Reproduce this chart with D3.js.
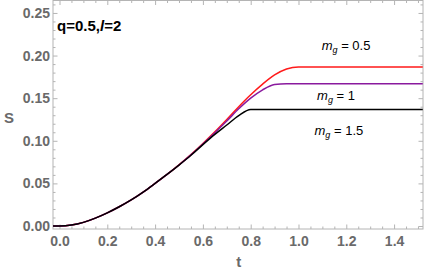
<!DOCTYPE html>
<html><head><meta charset="utf-8">
<script src="https://cdn.jsdelivr.net/npm/d3@7"></script>
<style>
html,body{margin:0;padding:0;background:#fff;}
svg{display:block;}
</style></head>
<body>
<svg id="chart" width="425" height="271"></svg>
<script>
// ---- data ----
const tValues   = [-0.027, 0, 0.05, 0.1, 0.15, 0.2, 0.25, 0.3, 0.35, 0.4, 0.45, 0.5, 0.55, 0.6, 0.65, 0.7, 0.75, 0.8, 0.85, 0.9, 0.95, 1.0, 1.05, 1.52];
const sMg05     = [0, 0, 0.0011, 0.0043, 0.0093, 0.0155, 0.0226, 0.0306, 0.0398, 0.0500, 0.0605, 0.0718, 0.0838, 0.0968, 0.1105, 0.1250, 0.1400, 0.1540, 0.1665, 0.1772, 0.1842, 0.1866, 0.1866, 0.1866];
const sMg1      = [0, 0, 0.0011, 0.0043, 0.0093, 0.0155, 0.0226, 0.0306, 0.0398, 0.0500, 0.0605, 0.0716, 0.0834, 0.0962, 0.1095, 0.1232, 0.1375, 0.1500, 0.1598, 0.1660, 0.1670, 0.1670, 0.1670, 0.1670];
const sMg15     = [0, 0, 0.0011, 0.0043, 0.0093, 0.0155, 0.0226, 0.0306, 0.0398, 0.0500, 0.0605, 0.0715, 0.0830, 0.0955, 0.1075, 0.1185, 0.1295, 0.1366, 0.1366, 0.1366, 0.1366, 0.1366, 0.1366, 0.1366];
const seriesColors = ["#ff1a1a", "#8a1a9e", "#000000"];
const seriesNames  = ["0.5", "1", "1.5"];
const labelT = [1.199, 1.157, 1.169];
const labelS = [0.206, 0.1475, 0.1066];
const xTicks = [0, 0.2, 0.4, 0.6, 0.8, 1.0, 1.2, 1.4];
const yTicks = [0, 0.05, 0.10, 0.15, 0.20, 0.25];

// ---- layout ----
const svg = d3.select("#chart");
const x = d3.scaleLinear().domain([-0.0272, 1.521]).range([53, 423]);
const y = d3.scaleLinear().domain([-0.0035, 0.2646]).range([229, 0.5]);
const frameColor = "#b4b4b4";
const labelColor = "#6a6a6a";
const fontFam = "'Liberation Sans', Arial, sans-serif";

// minor ticks
const xMinor = d3.range(-0.0, 1.5201, 0.05).filter(v => Math.abs(Math.round(v*5)-v*5) > 1e-6);
const yMinor = d3.range(0, 0.2641, 0.01).filter(v => Math.abs(Math.round(v*20)-v*20) > 1e-6);

function styleAxis(g){
  g.select(".domain").remove();
  g.selectAll("line").attr("stroke", frameColor).attr("stroke-width", 1);
  g.selectAll("text").attr("fill", labelColor).attr("font-family", fontFam)
    .attr("font-size", 14).attr("font-weight", "bold");
}

// bottom
svg.append("g").attr("transform","translate(0,229)")
  .call(d3.axisBottom(x).tickValues(xTicks).tickFormat(d3.format(".1f")).tickSizeInner(-4.5).tickSizeOuter(0).tickPadding(7))
  .call(styleAxis);
svg.append("g").attr("transform","translate(0,229)")
  .call(d3.axisBottom(x).tickValues(xMinor).tickFormat("").tickSizeInner(-2.5).tickSizeOuter(0))
  .call(styleAxis);
// top
svg.append("g").attr("transform","translate(0,0.5)")
  .call(d3.axisTop(x).tickValues(xTicks).tickFormat("").tickSizeInner(-4.5).tickSizeOuter(0))
  .call(styleAxis);
svg.append("g").attr("transform","translate(0,0.5)")
  .call(d3.axisTop(x).tickValues(xMinor).tickFormat("").tickSizeInner(-2.5).tickSizeOuter(0))
  .call(styleAxis);
// left
svg.append("g").attr("transform","translate(53,0)")
  .call(d3.axisLeft(y).tickValues(yTicks).tickFormat(d3.format(".2f")).tickSizeInner(-4.5).tickSizeOuter(0).tickPadding(3))
  .call(styleAxis);
svg.append("g").attr("transform","translate(53,0)")
  .call(d3.axisLeft(y).tickValues(yMinor).tickFormat("").tickSizeInner(-2.5).tickSizeOuter(0))
  .call(styleAxis);
// right
svg.append("g").attr("transform","translate(423,0)")
  .call(d3.axisRight(y).tickValues(yTicks).tickFormat("").tickSizeInner(-4.5).tickSizeOuter(0))
  .call(styleAxis);
svg.append("g").attr("transform","translate(423,0)")
  .call(d3.axisRight(y).tickValues(yMinor).tickFormat("").tickSizeInner(-2.5).tickSizeOuter(0))
  .call(styleAxis);

// frame
svg.append("rect").attr("x",53).attr("y",0.5).attr("width",370).attr("height",228.5)
  .attr("fill","none").attr("stroke",frameColor).attr("stroke-width",1);

// curves
svg.append("clipPath").attr("id","clip").append("rect")
  .attr("x",53).attr("y",0).attr("width",370).attr("height",229);
const allSeries = [sMg05, sMg1, sMg15];
const line = d3.line().x(d => x(d[0])).y(d => y(d[1])).curve(d3.curveMonotoneX);
const plotG = svg.append("g").attr("clip-path","url(#clip)");
[0,1,2].forEach(i => {
  const pts = tValues.map((t,k) => [t, allSeries[i][k]]);
  plotG.append("path").datum(pts).attr("d", line)
    .attr("fill","none").attr("stroke", seriesColors[i]).attr("stroke-width", 1.5);
});

// series labels
seriesNames.forEach((n,i) => {
  const tx = svg.append("text").attr("x", x(labelT[i])).attr("y", y(labelS[i]))
    .attr("text-anchor","middle").attr("font-family", fontFam).attr("font-size", 13).attr("fill","#000");
  tx.append("tspan").attr("font-style","italic").text("m");
  tx.append("tspan").attr("font-style","italic").attr("font-size", 9).attr("dy", 3).text("g");
  tx.append("tspan").attr("dy", -3).text(" = " + n);
});

// annotation
const ann = svg.append("text").attr("x", 57).attr("y", 31)
  .attr("font-family", fontFam).attr("font-size", 15).attr("font-weight","bold").attr("fill","#000");
ann.append("tspan").text("q=0.5,");
ann.append("tspan").attr("font-style","italic").text("l");
ann.append("tspan").text("=2");

// axis titles
svg.append("text").attr("x", x(0.75)).attr("y", 267).attr("text-anchor","middle")
  .attr("font-family", fontFam).attr("font-size", 15).attr("font-weight","bold").attr("fill", labelColor).text("t");
svg.append("text").attr("x", 9).attr("y", 123).attr("text-anchor","middle")
  .attr("font-family", fontFam).attr("font-size", 15).attr("font-weight","bold").attr("fill", labelColor).text("S");
</script>
</body></html>
